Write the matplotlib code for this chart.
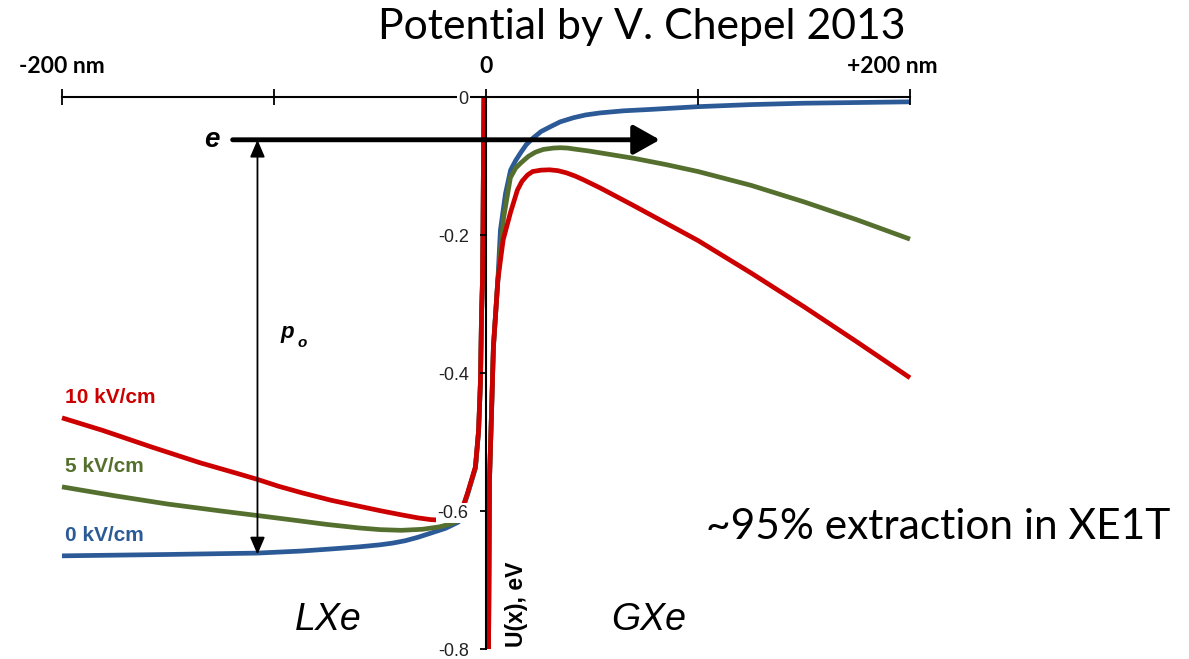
import matplotlib
matplotlib.use("Agg")
import matplotlib.pyplot as plt

plt.rcParams['font.family'] = ['Liberation Sans', 'DejaVu Sans']

# Potential energy U(x) in eV versus distance x from the surface in nm.
# Liquid side (x < 0)
x_liq_0kv = [-200, -150, -108, -87, -73, -60, -50, -44, -38, -32, -26, -19, -13, -8.7, -5.0, -3.5, -2.6, -2.1, -1.65, -1.4, -1.2, -0.95]
u_liq_0kv = [-0.665, -0.663, -0.661, -0.658, -0.655, -0.652, -0.649, -0.6465, -0.643, -0.638, -0.632, -0.625, -0.616, -0.576, -0.538, -0.485, -0.412, -0.315, -0.267, -0.185, -0.093, 0.0]

x_liq_5kv = [-200, -175, -150, -125, -108, -90, -75, -60, -50, -40, -30, -22, -17, -13, -8.7, -5.0, -3.5, -2.6, -2.1, -1.65, -1.4, -1.2, -0.95]
u_liq_5kv = [-0.565, -0.578, -0.590, -0.600, -0.6065, -0.6135, -0.6195, -0.6245, -0.627, -0.628, -0.6265, -0.623, -0.619, -0.614, -0.575, -0.537, -0.484, -0.411, -0.314, -0.266, -0.184, -0.092, 0.0]

x_liq_10kv = [-200, -181, -158, -135, -118, -108, -98, -87, -73, -60, -50, -40, -32, -26, -20, -15, -11, -8.7, -5.0, -3.5, -2.6, -2.1, -1.65, -1.4, -1.2, -0.95]
u_liq_10kv = [-0.465, -0.483, -0.507, -0.530, -0.545, -0.554, -0.564, -0.5735, -0.5845, -0.593, -0.5995, -0.6055, -0.610, -0.6125, -0.6135, -0.611, -0.595, -0.574, -0.536, -0.483, -0.410, -0.313, -0.265, -0.183, -0.091, 0.0]

# Gas side (x > 0)
x_gas_0kv = [1.2, 1.65, 2.6, 3.5, 5.6, 6.8, 9.2, 11.6, 14, 16.3, 19, 22.4, 26, 30.4, 35, 41.3, 47, 54, 65, 77.6, 100, 125, 150, 175, 200]
u_gas_0kv = [-0.800, -0.555, -0.458, -0.362, -0.265, -0.193, -0.140, -0.106, -0.092, -0.081, -0.069, -0.059, -0.050, -0.043, -0.036, -0.030, -0.026, -0.023, -0.020, -0.018, -0.014, -0.011, -0.009, -0.008, -0.007]

x_gas_5kv = [1.2, 1.65, 2.6, 3.5, 5.6, 8.3, 11.5, 14, 16.3, 20, 23.3, 27, 31.8, 35, 38.4, 43, 48, 54, 62, 70, 85, 100, 125, 150, 175, 200]
u_gas_5kv = [-0.800, -0.555, -0.458, -0.362, -0.265, -0.175, -0.117, -0.103, -0.096, -0.086, -0.080, -0.076, -0.074, -0.0735, -0.074, -0.076, -0.078, -0.081, -0.085, -0.089, -0.098, -0.108, -0.128, -0.152, -0.178, -0.206]

x_gas_10kv = [1.2, 1.65, 2.6, 3.5, 5.6, 8.1, 11.5, 14.8, 17, 19.6, 22, 26, 30, 34, 38, 42, 46, 50, 54, 62, 70, 85, 100, 125, 150, 175, 200]
u_gas_10kv = [-0.800, -0.555, -0.458, -0.362, -0.265, -0.207, -0.168, -0.135, -0.122, -0.113, -0.108, -0.106, -0.1055, -0.1068, -0.110, -0.1145, -0.120, -0.126, -0.132, -0.145, -0.158, -0.183, -0.208, -0.255, -0.304, -0.355, -0.407]

field_labels = ["0 kV/cm", "5 kV/cm", "10 kV/cm"]
field_colors = ["#2C5A97", "#55702E", "#CC0000"]
label_u = [-0.635, -0.536, -0.435]

x_ticks = [-200, -100, 0, 100, 200]
y_ticks = [-0.8, -0.6, -0.4, -0.2, 0.0]
y_tick_labels = ["-0.8", "-0.6", "-0.4", "-0.2", "0"]

fig = plt.figure(figsize=(11.89, 6.59), dpi=100)
ax = fig.add_axes([62 / 1189, 10 / 659, 848 / 1189, 552 / 659])
ax.set_xlim(-200, 200)
ax.set_ylim(-0.8, 0)
ax.set_axisbelow(False)

curves = [
    (x_liq_0kv, u_liq_0kv, x_gas_0kv, u_gas_0kv),
    (x_liq_5kv, u_liq_5kv, x_gas_5kv, u_gas_5kv),
    (x_liq_10kv, u_liq_10kv, x_gas_10kv, u_gas_10kv),
]
for (xl, ul, xg, ug), col, lab, ly in zip(curves, field_colors, field_labels, label_u):
    ax.plot(xl, ul, color=col, lw=3.4, solid_capstyle='butt', solid_joinstyle='round',
            clip_on=False, zorder=2)
    ax.plot(xg, ug, color=col, lw=3.4, solid_capstyle='butt', solid_joinstyle='round',
            clip_on=False, zorder=2)
    ax.text(-198.5, ly, lab, color=col, fontsize=15, fontweight='bold',
            ha='left', va='center')

# Axes frame: top line carries the x scale, y axis sits at x = 0
for side in ("right", "bottom"):
    ax.spines[side].set_visible(False)
ax.spines["top"].set_linewidth(1.5)
ax.spines["left"].set_position(("data", 0))
ax.spines["left"].set_linewidth(1.5)

ax.xaxis.tick_top()
ax.set_xticks(x_ticks)
ax.set_xticklabels([])
ax.tick_params(axis='x', direction='inout', length=12, width=1.3, top=True, bottom=False)

ax.set_yticks(y_ticks)
ax.set_yticklabels(y_tick_labels)
ax.tick_params(axis='y', direction='out', length=4.5, width=1.3, pad=8,
               labelsize=13, labelcolor='#222222')
for t in ax.get_yticklabels():
    t.set_bbox(dict(facecolor='white', edgecolor='none', pad=1.0))

# x scale annotations above the top line
for xpos, txt in [(-200, "-200 nm"), (0, "0"), (191.5, "+200 nm")]:
    ax.text(xpos, 0.0435, txt, fontsize=16.5, fontweight='bold', family='Lato',
            ha='center', va='center', clip_on=False)

ax.text(14.5, -0.735, "U(x), eV", rotation=90, fontsize=16.5, fontweight='bold',
        ha='center', va='center')

# Electron arrow and barrier height
ax.annotate("", xy=(82, -0.062), xytext=(-119.5, -0.062),
            arrowprops=dict(arrowstyle='-|>,head_length=0.8,head_width=0.45',
                            mutation_scale=20, lw=3.5, color='black',
                            shrinkA=0, shrinkB=0),
            zorder=5)
ax.text(-129.5, -0.062, "e", fontsize=20, fontweight='bold', style='italic',
        ha='center', va='center')
ax.annotate("", xy=(-107.8, -0.663), xytext=(-107.8, -0.062),
            arrowprops=dict(arrowstyle='<|-|>,head_length=0.7,head_width=0.3',
                            mutation_scale=15, lw=1.3, color='black',
                            shrinkA=0, shrinkB=0),
            zorder=5)
ax.text(-93.5, -0.342, "p", fontsize=16, fontweight='bold', style='italic',
        ha='center', va='center')
ax.text(-86.5, -0.357, "o", fontsize=11, fontweight='bold', style='italic',
        ha='center', va='center')

ax.text(-74.5, -0.758, "LXe", fontsize=27, style='italic', ha='center', va='center')
ax.text(76.5, -0.758, "GXe", fontsize=27, style='italic', ha='center', va='center')

fig.text(641.5 / 1189, 1 - 27 / 659, "Potential by V. Chepel 2013", fontsize=30.8,
         family='Lato', ha='center', va='center')
fig.text(938 / 1189, 1 - 527 / 659, "~95% extraction in XE1T", fontsize=30.6,
         family='Lato', ha='center', va='center')

fig.savefig("out.png", dpi=100)
